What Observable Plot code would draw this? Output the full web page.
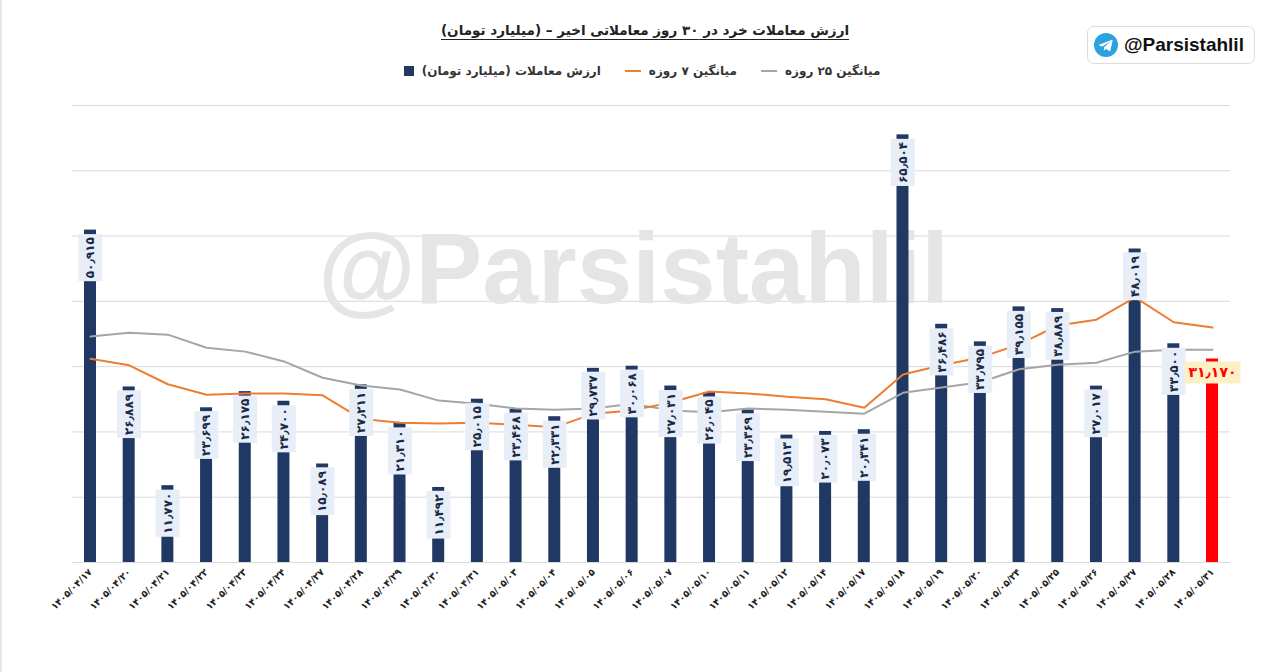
<!DOCTYPE html>
<html lang="fa">
<head>
<meta charset="utf-8">
<script src="https://cdn.jsdelivr.net/npm/d3@7"></script>
<script src="https://cdn.jsdelivr.net/npm/@observablehq/plot@0.6"></script>
<style>
  html, body { margin: 0; padding: 0; background: #fff; }
  body { width: 1280px; height: 672px; overflow: hidden; position: relative; font-family: "DejaVu Sans", "Noto Sans", sans-serif; }
  #edge { position: absolute; left: 0; top: 0; width: 2px; height: 672px; background: #e6e6e6; }
  #header { position: relative; height: 90px; }
  #title { position: absolute; top: 22px; left: 0; width: 1290px; text-align: center; font-weight: bold; font-size: 13.5px; color: #222; }
  #title span { text-decoration: underline; text-underline-offset: 4px; }
  #legend { position: absolute; top: 64px; left: 0; width: 1280px; display: flex; justify-content: center; gap: 24px; font-weight: bold; font-size: 12px; color: #333; padding-left: 4px; box-sizing: border-box; }
  .item { display: flex; align-items: center; gap: 8px; }
  .sq { width: 10px; height: 10px; background: #203864; }
  .ln { width: 16px; height: 2px; }
  #badge { position: absolute; left: 1087px; top: 26px; width: 168px; height: 38px; border: 1px solid #dcdcdc; border-radius: 7px; box-sizing: border-box; display: flex; align-items: center; gap: 6px; padding-left: 6px; font-family: "Liberation Sans", Arial, sans-serif; font-weight: bold; font-size: 19px; color: #111; }
</style>
</head>
<body>
<div id="edge"></div>
<div id="header">
  <div id="title"><span dir="rtl">ارزش معاملات خرد در ۳۰ روز معاملاتی اخیر – (میلیارد تومان)</span></div>
  <div id="legend">
    <div class="item"><div class="sq"></div><span dir="rtl">ارزش معاملات (میلیارد تومان)</span></div>
    <div class="item"><div class="ln" style="background:#ed7d31"></div><span dir="rtl">میانگین ۷ روزه</span></div>
    <div class="item"><div class="ln" style="background:#a5a5a5"></div><span dir="rtl">میانگین ۲۵ روزه</span></div>
  </div>
  <div id="badge">
    <svg width="24" height="24" viewBox="0 0 24 24"><circle cx="12" cy="12" r="12" fill="#2aa3e0"/><path d="M5.2 11.7 L17.6 6.9 C18.2 6.7 18.7 7.1 18.5 7.9 L16.4 17.6 C16.2 18.3 15.8 18.4 15.2 18.1 L12 15.7 L10.4 17.2 C10.2 17.4 10.1 17.5 9.8 17.5 L10.1 14.3 L15.9 9 C16.2 8.8 15.9 8.6 15.5 8.9 L8.3 13.4 L5.2 12.4 C4.6 12.2 4.6 11.9 5.2 11.7 Z" fill="#fff"/></svg>
    <span>@Parsistahlil</span>
  </div>
</div>
<div id="chart"></div>
<script>
const dates = ["۱۴۰۵/۰۴/۱۷","۱۴۰۵/۰۴/۲۰","۱۴۰۵/۰۴/۲۱","۱۴۰۵/۰۴/۲۲","۱۴۰۵/۰۴/۲۳","۱۴۰۵/۰۴/۲۴","۱۴۰۵/۰۴/۲۷","۱۴۰۵/۰۴/۲۸","۱۴۰۵/۰۴/۲۹","۱۴۰۵/۰۴/۳۰","۱۴۰۵/۰۴/۳۱","۱۴۰۵/۰۵/۰۳","۱۴۰۵/۰۵/۰۴","۱۴۰۵/۰۵/۰۵","۱۴۰۵/۰۵/۰۶","۱۴۰۵/۰۵/۰۷","۱۴۰۵/۰۵/۱۰","۱۴۰۵/۰۵/۱۱","۱۴۰۵/۰۵/۱۲","۱۴۰۵/۰۵/۱۴","۱۴۰۵/۰۵/۱۷","۱۴۰۵/۰۵/۱۸","۱۴۰۵/۰۵/۱۹","۱۴۰۵/۰۵/۲۰","۱۴۰۵/۰۵/۲۴","۱۴۰۵/۰۵/۲۵","۱۴۰۵/۰۵/۲۶","۱۴۰۵/۰۵/۲۷","۱۴۰۵/۰۵/۲۸","۱۴۰۵/۰۵/۳۱"];
const values = [50.915,26.889,11.770,23.699,26.175,24.700,15.089,27.211,21.310,11.492,25.015,23.468,22.331,29.737,30.068,27.031,26.045,23.369,19.513,20.073,20.341,65.504,36.486,33.795,39.155,38.889,27.017,48.019,33.500,31.170];
const ma7 = [31.2,30.2,27.3,25.7,25.9,25.9,25.6,22.0,21.4,21.3,21.4,21.1,20.7,22.8,23.3,24.5,26.2,25.9,25.4,25.0,23.7,28.8,30.2,31.4,33.4,36.3,37.2,40.6,36.8,36.0];
const ma25 = [34.6,35.2,34.9,32.9,32.3,30.8,28.3,27.1,26.5,24.8,24.3,23.6,23.4,23.6,24.3,23.3,23.0,23.6,23.4,23.1,22.8,26.0,26.8,27.6,29.6,30.3,30.6,32.3,32.6,32.6];
const yTicks = [0,10,20,30,40,50,60,70];

const fa = s => String(s).replace(/[0-9]/g, d => "۰۱۲۳۴۵۶۷۸۹"[d]).replace(".", "٫");
const rows = dates.map((d, i) => ({date: d, value: values[i], ma7: ma7[i], ma25: ma25[i], last: i === dates.length - 1, label: fa(values[i].toFixed(3))}));
const body = rows.filter(r => !r.last);
const lastRow = rows.filter(r => r.last);

const chart = Plot.plot({
  width: 1280,
  height: 582,
  marginLeft: 72,
  marginRight: 50,
  marginTop: 15,
  marginBottom: 110,
  style: {fontFamily: "DejaVu Sans, sans-serif", background: "transparent", overflow: "visible"},
  x: {domain: dates, paddingInner: 0.69, paddingOuter: 0.31, round: false, label: null},
  y: {domain: [0, 70], label: null},
  marks: [
    Plot.ruleY(yTicks, {stroke: "#d9d9d9", strokeWidth: 1}),
    Plot.text(["@Parsistahlil"], {frameAnchor: "middle", dx: -18, dy: -63, fontSize: 100, fontWeight: "bold", fontFamily: "Liberation Sans, Arial, sans-serif", fill: "#e5e5e5"}),
    Plot.barY(rows, {x: "date", y: "value", fill: d => d.last ? "#ff0000" : "#203864"}),
    Plot.line(rows, {x: "date", y: "ma25", stroke: "#a5a5a5", strokeWidth: 2}),
    Plot.line(rows, {x: "date", y: "ma7", stroke: "#ed7d31", strokeWidth: 2}),
    Plot.text(body, {x: "date", y: "value", text: "label", rotate: -90, textAnchor: "end", lineAnchor: "middle", dy: 7, fontSize: 12, fontWeight: "bold", fill: "#1a2a48", className: "vlab"}),
    Plot.text(lastRow, {x: "date", y: "value", text: "label", textAnchor: "middle", lineAnchor: "middle", dy: 14, fontSize: 14, fontWeight: "bold", fill: "#ff0000", className: "vlast"}),
    Plot.axisX({tickSize: 0, tickPadding: 8, tickRotate: -45, fontSize: 9.5, fontWeight: "bold", fill: "#222"}),
    Plot.axisY({ticks: [], tickSize: 0})
  ]
});
document.getElementById("chart").appendChild(chart);

function addBoxes(cls, fill, padX, padY) {
  chart.querySelectorAll("g." + cls + " text").forEach(t => {
    const b = t.getBBox();
    const r = document.createElementNS("http://www.w3.org/2000/svg", "rect");
    r.setAttribute("x", b.x - padX);
    r.setAttribute("y", b.y - padY);
    r.setAttribute("width", b.width + 2 * padX);
    r.setAttribute("height", b.height + 2 * padY);
    r.setAttribute("fill", fill);
    if (t.getAttribute("transform")) r.setAttribute("transform", t.getAttribute("transform"));
    t.parentNode.insertBefore(r, t);
  });
}
addBoxes("vlab", "#e7eef8", 3, 5);
addBoxes("vlast", "#fdefc6", 4, 3);
</script>
</body>
</html>
